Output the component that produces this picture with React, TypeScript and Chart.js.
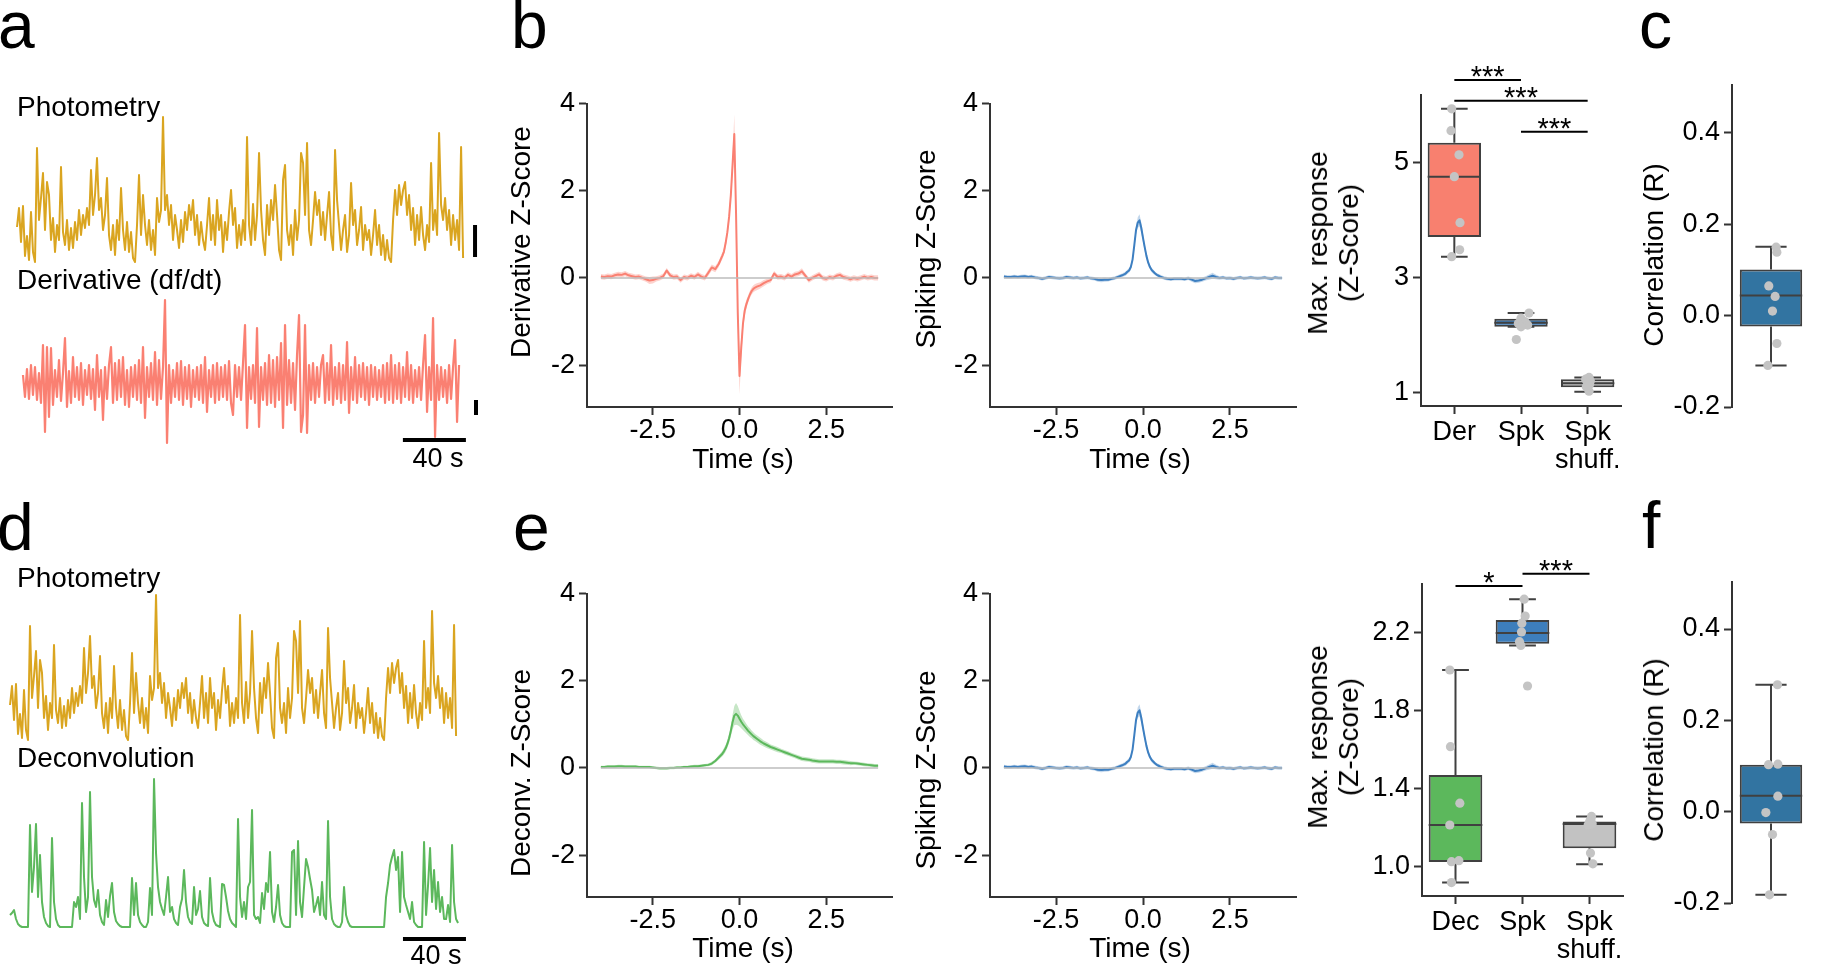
import React, { useEffect, useRef } from 'react';
import { Chart, registerables } from 'chart.js';

Chart.register(...registerables);

const FONT = '"Liberation Sans", Arial, Helvetica, sans-serif';
Chart.defaults.font.family = FONT;
Chart.defaults.font.size = 27;
Chart.defaults.color = '#000';

// ---------------- colours ----------------
const GOLD = '#DAA520';
const SALMON = '#FA8072';
const GREEN = '#5CB85C';
const BLUE_LINE = '#3D7FC1';
const ZERO = '#BDBDBD';
const AXIS = '#333333';
const BOX_EDGE = '#404040';
const DOT = '#C4C4C4';

// ---------------- example traces ----------------
const SAMPLE_DT = 1.27; // seconds per plotted sample
const DERIV_T0 = 3.8; // derivative trace starts slightly later
const photometry = [
  43, 62, 28, 64, 14, 34, 10, 58, 18, 8,
  122, 50, 72, 97, 40, 88, 75, 30, 52, 18,
  45, 30, 103, 38, 25, 50, 20, 42, 22, 48,
  30, 60, 35, 55, 42, 62, 45, 100, 55, 75,
  112, 60, 72, 40, 55, 92, 35, 20, 45, 15,
  50, 30, 82, 40, 20, 48, 18, 38, 12, 8,
  45, 95, 35, 75, 45, 25, 50, 20, 40, 15,
  72, 48, 60, 153, 60, 75, 45, 65, 30, 55,
  40, 22, 50, 28, 58, 40, 65, 50, 70, 35,
  55, 25, 48, 30, 20, 45, 72, 30, 55, 25,
  70, 40, 55, 18, 48, 30, 58, 80, 45, 62,
  22, 45, 25, 50, 30, 133, 45, 25, 66, 30,
  55, 117, 60, 30, 15, 65, 35, 70, 50, 85,
  55, 20, 10, 90, 105, 40, 25, 45, 15, 60,
  30, 50, 117, 107, 55, 127, 40, 25, 50, 78,
  55, 70, 35, 58, 30, 55, 78, 35, 20, 120,
  70, 45, 20, 40, 55, 18, 35, 87, 45, 60,
  25, 40, 63, 20, 45, 30, 40, 15, 35, 60,
  25, 45, 15, 35, 10, 30, 12, 8, 50, 80,
  55, 85, 65, 80, 88, 55, 75, 40, 62, 25,
  55, 30, 63, 35, 20, 45, 28, 107, 40, 60,
  35, 137, 65, 50, 72, 40, 60, 25, 55, 30,
  50, 20, 123, 12,
];
const derivative = [
  10, -12, 16, -14, 20, -10, 18, -15, 12, -18,
  40, -47, 38, -32, 37, -20, 15, -12, 25, -16,
  12, 47, -22, 14, -18, 28, -12, 18, -15, 22,
  -20, 15, -10, 20, -14, 16, -25, 30, -12, 15,
  -35, 18, -14, 20, 38, -18, 22, -15, 25, -12,
  28, -20, 15, -22, 18, -12, 20, -15, 25, -18,
  38, -33, 18, -12, 22, -15, 33, -20, 25, -14,
  18, 85, -58, 20, -18, 15, -12, 22, -15, 24,
  -20, 18, -14, 20, -22, 15, -12, 18, -15, 20,
  -18, 28, -27, 15, -12, 20, -18, 22, -15, 18,
  -12, 20, -15, 24, -18, -30, 20, -12, 18, -15,
  22, 60, -43, 18, -14, 20, -18, 57, -42, 18,
  -15, 22, -20, 30, -18, 25, -22, 28, -15, 42,
  -43, 60, -20, 25, -18, 22, -25, 30, 70, -47,
  -30, 60, -48, 20, -15, 22, -18, 18, -12, 20,
  30, -18, 22, -15, 40, -20, 18, -14, 22, -18,
  20, -15, 43, -28, 18, -15, 28, -18, 20, -12,
  22, -15, 18, -20, 20, -12, 18, -15, 15, -12,
  20, -18, 22, -15, 30, -18, 20, -14, 22, -18,
  18, -12, 33, -15, 20, -18, 15, -12, 18, -15,
  20, 50, -27, 18, -15, 67, -52, 20, -15, 18,
  -12, 15, -18, 20, -14, 18, 45, -37, 20,
];
const deconvolution = [
  12, 14, 17, 8, 3, 1, 0, 0, 0, 0,
  102, 35, 60, 103, 30, 72, 25, 10, 4, 1,
  0, 89, 25, 8, 2, 0, 0, 0, 0, 0,
  0, 0, 25, 20, 30, 8, 124, 50, 15, 30,
  135, 50, 27, 20, 37, 12, 5, 2, 27, 10,
  31, 44, 15, 6, 3, 1, 0, 0, 0, 0,
  0, 49, 12, 44, 12, 5, 2, 0, 0, 5,
  39, 12, 148, 74, 40, 25, 18, 12, 30, 50,
  15, 20, 8, 4, 2, 20, 28, 57, 25, 10,
  5, 3, 40, 12, 18, 36, 10, 4, 2, 1,
  49, 15, 6, 2, 1, 0, 43, 42, 30, 16,
  8, 4, 2, 0, 108, 30, 10, 25, 8, 40,
  45, 117, 12, 8, 10, 4, 34, 18, 44, 35,
  75, 15, 5, 20, 42, 12, 4, 1, 0, 0,
  0, 75, 77, 12, 86, 25, 10, 40, 68, 60,
  48, 37, 15, 22, 30, 12, 45, 12, 8, 106,
  30, 8, 3, 1, 0, 0, 5, 40, 12, 5,
  1, 0, 0, 0, 0, 0, 0, 0, 0, 0,
  0, 0, 0, 0, 0, 0, 0, 0, 30, 44,
  62, 70, 77, 57, 70, 15, 75, 30, 22, 15,
  8, 25, 5, 2, 0, 0, 0, 85, 12, 42,
  79, 25, 57, 18, 45, 15, 30, 8, 8, 22,
  5, 82, 25, 8, 4,
];
// scale bars (data units of the traces)
const photoBarA = { t: 290.8, y0: 13, y1: 45 };
const derivBarA = { t: 291.4, y0: -30, y1: -15 };
const timeBarA = { seconds: 40, tEnd: 285, y: -55 };
const timeBarD = { seconds: 40, tEnd: 289.5, y: -12 };

// ---------------- peri-event averages ----------------
const psthTimes = [
  -4, -3.9, -3.8, -3.7, -3.6, -3.5, -3.4, -3.3, -3.2, -3.1,
  -3, -2.9, -2.8, -2.7, -2.6, -2.5, -2.4, -2.3, -2.2, -2.1,
  -2, -1.9, -1.8, -1.7, -1.6, -1.5, -1.4, -1.3, -1.2, -1.1,
  -1, -0.9, -0.8, -0.7, -0.6,
  -0.5, -0.45, -0.4, -0.35, -0.3, -0.25, -0.2, -0.15, -0.1, -0.05, 0,
  0.05, 0.1, 0.15, 0.2, 0.25, 0.3, 0.35, 0.4, 0.45, 0.5,
  0.6, 0.7, 0.8, 0.9, 1, 1.1, 1.2, 1.3, 1.4, 1.5,
  1.6, 1.7, 1.8, 1.9, 2, 2.1, 2.2, 2.3, 2.4, 2.5,
  2.6, 2.7, 2.8, 2.9, 3, 3.1, 3.2, 3.3, 3.4, 3.5,
  3.6, 3.7, 3.8, 3.9, 4,
];
const derivZ = [
  0.03, 0.02, 0.04, 0.03, 0.06, 0.08, 0.07, 0.1, 0.06, 0.04,
  0.02, 0.03, 0.0, -0.03, -0.06, -0.05, -0.02, 0.0, 0.04, 0.17,
  0.06, 0.02, 0.03, -0.05, 0.02, 0.0, 0.05, 0.02, 0.08, 0.03,
  0.0, 0.12, 0.24, 0.2, 0.32,
  0.5, 0.6, 0.8, 1.05, 1.4, 1.9, 2.6, 3.3, 1.5, -0.8, -2.25,
  -1.6, -1.05, -0.75, -0.6, -0.48, -0.38, -0.3, -0.25, -0.22, -0.2,
  -0.17, -0.12, -0.08, -0.05, 0.1, 0.02, 0.03, 0.0, 0.07, 0.03,
  0.08, 0.1, 0.15, 0.05, -0.05, 0.0, 0.04, 0.08, 0.0, -0.02,
  0.02, 0.0, 0.05, 0.07, 0.02, 0.0, -0.03, 0.0, -0.02, 0.0,
  0.03, 0.0, 0.02, 0.0, 0.0,
];
const derivSem = [
  0.06, 0.06, 0.06, 0.06, 0.06, 0.06, 0.06, 0.06, 0.06, 0.06,
  0.06, 0.06, 0.06, 0.06, 0.08, 0.08, 0.06, 0.06, 0.06, 0.06,
  0.06, 0.06, 0.06, 0.06, 0.06, 0.06, 0.06, 0.06, 0.06, 0.06,
  0.06, 0.07, 0.07, 0.07, 0.07,
  0.08, 0.08, 0.1, 0.1, 0.12, 0.15, 0.25, 0.45, 0.3, 0.3, 0.42,
  0.25, 0.15, 0.12, 0.1, 0.08, 0.08, 0.08, 0.08, 0.08, 0.08,
  0.07, 0.07, 0.06, 0.06, 0.06, 0.06, 0.06, 0.06, 0.06, 0.06,
  0.06, 0.06, 0.07, 0.06, 0.06, 0.06, 0.06, 0.06, 0.06, 0.06,
  0.06, 0.06, 0.06, 0.06, 0.06, 0.06, 0.06, 0.06, 0.06, 0.06,
  0.06, 0.06, 0.06, 0.06, 0.06,
];
const spikeZ = [
  0.03, 0.02, 0.02, 0.03, 0.02, 0.03, 0.04, 0.02, 0.03, 0.01,
  0.0, -0.02, 0.0, 0.02, 0.01, 0.0, -0.01, 0.0, 0.02, 0.01,
  0.0, 0.01, -0.01, 0.0, 0.01, -0.01, -0.02, -0.04, -0.05, -0.04,
  -0.04, -0.02, 0.0, 0.03, 0.06,
  0.1, 0.14, 0.17, 0.25, 0.42, 0.75, 1.1, 1.27, 1.32, 1.15, 0.92,
  0.7, 0.5, 0.35, 0.25, 0.18, 0.14, 0.1, 0.07, 0.05, 0.03,
  0.0, -0.02, -0.03, -0.02, -0.02, -0.02, -0.03, -0.01, -0.04, -0.07,
  -0.06, -0.04, -0.01, 0.02, 0.05, 0.02, 0.0, 0.01, -0.01, 0.0,
  -0.02, 0.0, 0.01, -0.01, 0.0, 0.01, 0.0, -0.01, 0.0, 0.01,
  -0.01, -0.02, 0.01, 0.0, 0.0,
];
const spikeSem = [
  0.04, 0.04, 0.04, 0.04, 0.04, 0.04, 0.04, 0.04, 0.04, 0.04,
  0.04, 0.04, 0.04, 0.04, 0.04, 0.04, 0.04, 0.04, 0.04, 0.04,
  0.04, 0.04, 0.04, 0.04, 0.04, 0.04, 0.04, 0.05, 0.05, 0.05,
  0.04, 0.04, 0.04, 0.04, 0.04,
  0.05, 0.05, 0.05, 0.06, 0.07, 0.08, 0.1, 0.12, 0.14, 0.12, 0.1,
  0.08, 0.07, 0.06, 0.05, 0.05, 0.05, 0.04, 0.04, 0.04, 0.04,
  0.04, 0.04, 0.04, 0.04, 0.04, 0.04, 0.04, 0.04, 0.05, 0.05,
  0.05, 0.05, 0.05, 0.06, 0.07, 0.05, 0.04, 0.04, 0.04, 0.04,
  0.04, 0.04, 0.04, 0.04, 0.04, 0.04, 0.04, 0.04, 0.04, 0.04,
  0.04, 0.04, 0.04, 0.04, 0.04,
];
const deconvZ = [
  0.02, 0.02, 0.03, 0.03, 0.03, 0.04, 0.04, 0.03, 0.03, 0.03,
  0.03, 0.02, 0.02, 0.02, 0.02, 0.01, 0.0, -0.01, -0.01, -0.01,
  0.0, 0.0, 0.01, 0.01, 0.02, 0.02, 0.03, 0.04, 0.04, 0.05,
  0.06, 0.07, 0.1, 0.16, 0.24,
  0.32, 0.38, 0.45, 0.55, 0.68, 0.85, 1.05, 1.2, 1.24, 1.2, 1.13,
  1.06, 1.0, 0.95, 0.9, 0.85, 0.81, 0.77, 0.73, 0.7, 0.67,
  0.61, 0.56, 0.52, 0.48, 0.45, 0.42, 0.39, 0.36, 0.33, 0.3,
  0.27, 0.24, 0.21, 0.2, 0.19, 0.17, 0.16, 0.15, 0.15, 0.15,
  0.15, 0.15, 0.14, 0.14, 0.13, 0.12, 0.11, 0.11, 0.1, 0.09,
  0.08, 0.07, 0.06, 0.05, 0.05,
];
const deconvSem = [
  0.03, 0.03, 0.03, 0.03, 0.03, 0.03, 0.03, 0.03, 0.03, 0.03,
  0.03, 0.03, 0.03, 0.03, 0.03, 0.03, 0.03, 0.03, 0.03, 0.03,
  0.03, 0.03, 0.03, 0.03, 0.03, 0.03, 0.03, 0.03, 0.03, 0.03,
  0.03, 0.03, 0.04, 0.04, 0.05,
  0.06, 0.07, 0.08, 0.09, 0.1, 0.13, 0.17, 0.22, 0.25, 0.22, 0.18,
  0.15, 0.13, 0.12, 0.11, 0.1, 0.1, 0.09, 0.09, 0.08, 0.08,
  0.08, 0.07, 0.07, 0.06, 0.06, 0.06, 0.05, 0.05, 0.05, 0.05,
  0.05, 0.05, 0.05, 0.05, 0.05, 0.05, 0.05, 0.05, 0.05, 0.05,
  0.05, 0.05, 0.05, 0.05, 0.05, 0.05, 0.05, 0.04, 0.04, 0.04,
  0.04, 0.04, 0.04, 0.04, 0.04,
];
const psthXTicks = [-2.5, 0, 2.5];
const psthYTicks = [-2, 0, 2, 4];

// ---------------- max response boxes (b) ----------------
const respCatsB = ['Der', 'Spk', ['Spk', 'shuff.']];
const respColorsB = ['#F8806F', '#3D7EBC', '#C2C2C2'];
const respB_q1 = [3.71, 2.15, 1.1];
const respB_med = [4.76, 2.22, 1.17];
const respB_q3 = [5.35, 2.29, 1.24];
const respB_lo = [3.37, 2.15, 1.02];
const respB_hi = [5.94, 2.39, 1.27];
const respB_pts = [
  [5.94, 5.56, 5.14, 4.76, 3.96, 3.49, 3.37],
  [2.39, 2.3, 2.24, 2.21, 2.18, 2.15, 1.93],
  [1.27, 1.24, 1.21, 1.18, 1.15, 1.11, 1.03],
];
const respB_jit = [
  [-0.04, -0.05, 0.07, 0, 0.085, 0.08, -0.04],
  [0.12, 0.0, 0.06, -0.04, 0.1, 0.0, -0.07],
  [0.02, -0.03, 0.04, 0.0, 0.03, -0.02, 0.02],
];
const respB_ticks = [1, 3, 5];
const respB_sig: [number, number, number, string][] = [
  [0, 1, 6.44, '***'],
  [0, 2, 6.08, '***'],
  [1, 2, 5.54, '***'],
];

// ---------------- max response boxes (e) ----------------
const respCatsE = ['Dec', 'Spk', ['Spk', 'shuff.']];
const respColorsE = ['#5CB85C', '#3D7EBC', '#C2C2C2'];
const respE_q1 = [1.026, 2.144, 1.096];
const respE_med = [1.215, 2.2, 1.22];
const respE_q3 = [1.472, 2.267, 1.233];
const respE_lo = [0.92, 2.136, 1.014];
const respE_hi = [2.01, 2.373, 1.259];
const respE_pts = [
  [2.01, 1.617, 1.327, 1.215, 1.032, 1.027, 0.92],
  [2.373, 2.287, 2.25, 2.205, 2.155, 2.136, 1.928],
  [1.259, 1.245, 1.232, 1.222, 1.215, 1.071, 1.016],
];
const respE_jit = [
  [-0.085, -0.075, 0.065, -0.085, 0.05, -0.06, -0.06],
  [0.025, 0.04, -0.01, -0.015, -0.045, -0.025, 0.075],
  [0.03, 0.02, 0.0, 0.04, -0.02, 0.015, 0.05],
];
const respE_ticks = [1.0, 1.4, 1.8, 2.2];
const respE_sig: [number, number, number, string][] = [
  [0, 1, 2.441, '*'],
  [1, 2, 2.503, '***'],
];

// ---------------- correlation boxes (c, f) ----------------
const corrColor = '#3274A1';
const corrC_q1 = [-0.024];
const corrC_med = [0.044];
const corrC_q3 = [0.101];
const corrC_lo = [-0.109];
const corrC_hi = [0.151];
const corrC_pts = [[0.15, 0.139, 0.065, 0.042, 0.01, -0.061, -0.109]];
const corrC_jit = [[0.066, 0.075, -0.028, 0.053, 0.019, 0.075, -0.04]];
const corrF_q1 = [-0.026];
const corrF_med = [0.035];
const corrF_q3 = [0.103];
const corrF_lo = [-0.182];
const corrF_hi = [0.278];
const corrF_pts = [[0.278, 0.103, 0.104, 0.034, -0.002, -0.05, -0.182]];
const corrF_jit = [[0.083, -0.032, 0.088, 0.088, -0.066, 0.019, -0.019]];
const corrTicks = [-0.2, 0, 0.2, 0.4];

// ---------------- helpers ----------------
const baseOpts = () => ({
  responsive: false,
  animation: false,
  events: [],
  plugins: { legend: { display: false }, tooltip: { enabled: false } },
  elements: {
    point: { radius: 0 },
    line: { tension: 0, borderJoinStyle: 'round', borderCapStyle: 'butt' },
  },
});

const gridOpts = { display: true, drawOnChartArea: false, drawTicks: true, tickLength: 8, tickWidth: 2, tickColor: AXIS };
const borderOpts = { display: true, color: AXIS, width: 2 };

function fixedTicks(values: number[]) {
  return (s: any) => {
    s.ticks = values.map((v) => ({ value: v }));
  };
}

function traceChart(xmin: number, xmax: number, axes: Record<string, [number, number]>, datasets: any[]) {
  const scales: any = { x: { type: 'linear', display: false, min: xmin, max: xmax } };
  Object.keys(axes).forEach((k) => {
    scales[k] = { type: 'linear', display: false, position: 'left', min: axes[k][0], max: axes[k][1] };
  });
  return {
    type: 'line',
    data: { datasets },
    options: { ...baseOpts(), layout: { padding: 0 }, scales },
  };
}

const seg = (x0: number, y0: number, x1: number, y1: number, axis: string) => ({
  data: [{ x: x0, y: y0 }, { x: x1, y: y1 }],
  yAxisID: axis,
  borderColor: '#000',
  borderWidth: 4,
});

function psthChart(z: number[], sem: number[], line: string, band: string, yW: number, padRight: number) {
  const pts = (arr: number[]) => arr.map((v, i) => ({ x: psthTimes[i], y: v }));
  return {
    type: 'line',
    data: {
      datasets: [
        {
          data: [{ x: psthTimes[0], y: 0 }, { x: psthTimes[psthTimes.length - 1], y: 0 }],
          borderColor: ZERO, borderWidth: 1.6, order: 0,
        },
        { data: pts(z), borderColor: line, borderWidth: 2, order: 1 },
        { data: pts(z.map((v, i) => v + sem[i])), borderWidth: 0, borderColor: 'rgba(0,0,0,0)', backgroundColor: band, fill: '+1', order: 2 },
        { data: pts(z.map((v, i) => v - sem[i])), borderWidth: 0, borderColor: 'rgba(0,0,0,0)', fill: false, order: 3 },
      ],
    },
    options: {
      ...baseOpts(),
      layout: { padding: { top: 20.5, right: padRight, bottom: 0, left: 0 } },
      scales: {
        x: {
          type: 'linear', min: -4.4, max: 4.4,
          afterBuildTicks: fixedTicks(psthXTicks),
          afterFit: (s: any) => { s.height = 46; },
          ticks: { callback: (v: any) => Number(v).toFixed(1), font: { size: 27, lineHeight: 1.05 }, padding: 1, maxRotation: 0, color: '#000' },
          grid: gridOpts, border: borderOpts,
        },
        y: {
          type: 'linear', min: -2.96, max: 4,
          afterBuildTicks: fixedTicks(psthYTicks),
          afterFit: (s: any) => { s.width = yW; },
          ticks: { callback: (v: any) => String(v), font: { size: 27 }, padding: 4, color: '#000' },
          grid: gridOpts, border: borderOpts,
        },
      },
    },
  };
}

function boxChart(p: any) {
  const n = p.q1.length;
  const plugin = {
    id: 'boxExtras',
    afterDatasetDraw(chart: any, args: any) {
      if (args.index !== 0) return;
      const ctx = chart.ctx;
      const xs = chart.scales.x;
      const ys = chart.scales.y;
      ctx.save();
      ctx.strokeStyle = BOX_EDGE;
      ctx.lineWidth = 2;
      for (let c = 0; c < n; c++) {
        const cx = xs.getPixelForValue(c);
        const hw = xs.getPixelForValue(c + 0.4) - cx;
        const cw = hw / 2;
        const yMed = ys.getPixelForValue(p.med[c]);
        const yQ1 = ys.getPixelForValue(p.q1[c]);
        const yQ3 = ys.getPixelForValue(p.q3[c]);
        const yLo = ys.getPixelForValue(p.lo[c]);
        const yHi = ys.getPixelForValue(p.hi[c]);
        ctx.beginPath();
        ctx.moveTo(cx - hw, yMed); ctx.lineTo(cx + hw, yMed);
        ctx.moveTo(cx, yQ3); ctx.lineTo(cx, yHi);
        ctx.moveTo(cx, yQ1); ctx.lineTo(cx, yLo);
        ctx.moveTo(cx - cw, yHi); ctx.lineTo(cx + cw, yHi);
        ctx.moveTo(cx - cw, yLo); ctx.lineTo(cx + cw, yLo);
        ctx.stroke();
      }
      ctx.restore();
    },
    afterDraw(chart: any) {
      if (!p.sig) return;
      const ctx = chart.ctx;
      const xs = chart.scales.x;
      const ys = chart.scales.y;
      ctx.save();
      ctx.strokeStyle = '#000';
      ctx.fillStyle = '#000';
      ctx.lineWidth = 2;
      ctx.font = `29px ${FONT}`;
      ctx.textAlign = 'center';
      ctx.textBaseline = 'alphabetic';
      p.sig.forEach(([a, b, v, txt]: any) => {
        const x0 = xs.getPixelForValue(a);
        const x1 = xs.getPixelForValue(b);
        const y = ys.getPixelForValue(v);
        ctx.beginPath();
        ctx.moveTo(x0, y); ctx.lineTo(x1, y);
        ctx.stroke();
        ctx.fillText(txt, (x0 + x1) / 2, y + 6);
      });
      ctx.restore();
    },
  };
  const scatter = p.pts.flatMap((arr: number[], c: number) => arr.map((v, k) => ({ x: c + p.jit[c][k], y: v })));
  return {
    type: 'bar',
    data: {
      labels: p.labels,
      datasets: [
        {
          type: 'bar',
          data: p.q1.map((v: number, i: number) => [v, p.q3[i]]),
          backgroundColor: p.colors,
          borderColor: BOX_EDGE,
          borderWidth: 2,
          borderSkipped: false,
          grouped: false,
          barPercentage: 0.8,
          categoryPercentage: 1,
          order: 2,
          xAxisID: 'x',
          yAxisID: 'y',
        },
        {
          type: 'scatter',
          parsing: false,
          data: scatter,
          xAxisID: 'x',
          yAxisID: 'y',
          pointRadius: 4.6,
          pointBackgroundColor: DOT,
          pointBorderWidth: 0,
          order: 1,
        },
      ],
    },
    options: {
      ...baseOpts(),
      layout: { padding: p.pad },
      scales: {
        x: {
          type: 'category', offset: true, display: p.showX,
          afterFit: (s: any) => { s.height = p.xH; },
          ticks: { font: { size: 27, lineHeight: 1.05 }, padding: 4, maxRotation: 0, autoSkip: false, color: '#000' },
          grid: { ...gridOpts, offset: false },
          border: borderOpts,
        },
        y: {
          type: 'linear', min: p.yMin, max: p.yMax,
          afterBuildTicks: fixedTicks(p.yTicks),
          afterFit: (s: any) => { s.width = p.yW; },
          ticks: { callback: p.fmt, font: { size: 27 }, padding: 4, color: '#000' },
          grid: gridOpts, border: borderOpts,
        },
      },
    },
    plugins: [plugin],
  };
}

// ---------------- chart configs ----------------
const cfgA = () =>
  traceChart(-10.79, 300.3, { yP: [-210, 170], yD: [-95, 285] }, [
    { data: photometry.map((v, i) => ({ x: i * SAMPLE_DT, y: v })), yAxisID: 'yP', borderColor: GOLD, borderWidth: 2 },
    { data: derivative.map((v, i) => ({ x: DERIV_T0 + i * SAMPLE_DT, y: v })), yAxisID: 'yD', borderColor: SALMON, borderWidth: 2.2 },
    seg(photoBarA.t, photoBarA.y0, photoBarA.t, photoBarA.y1, 'yP'),
    seg(derivBarA.t, derivBarA.y0, derivBarA.t, derivBarA.y1, 'yD'),
    seg(timeBarA.tEnd - timeBarA.seconds, timeBarA.y, timeBarA.tEnd, timeBarA.y, 'yD'),
  ]);

const cfgD = () =>
  traceChart(-6.35, 304.76, { yP: [-220, 173], yC: [-41, 352] }, [
    { data: photometry.map((v, i) => ({ x: i * SAMPLE_DT, y: v })), yAxisID: 'yP', borderColor: GOLD, borderWidth: 2 },
    { data: deconvolution.map((v, i) => ({ x: i * SAMPLE_DT, y: v })), yAxisID: 'yC', borderColor: GREEN, borderWidth: 2 },
    seg(timeBarD.tEnd - timeBarD.seconds, timeBarD.y, timeBarD.tEnd, timeBarD.y, 'yC'),
  ]);

const cfgBL = () => psthChart(derivZ, derivSem, SALMON, 'rgba(250,128,114,0.35)', 62, 13);
const cfgBM = () => psthChart(spikeZ, spikeSem, BLUE_LINE, 'rgba(61,127,193,0.3)', 55, 9);
const cfgEL = () => psthChart(deconvZ, deconvSem, GREEN, 'rgba(92,184,92,0.35)', 62, 13);
const cfgEM = () => psthChart(spikeZ, spikeSem, BLUE_LINE, 'rgba(61,127,193,0.3)', 55, 9);

const cfgBR = () =>
  boxChart({
    labels: respCatsB, colors: respColorsB,
    q1: respB_q1, med: respB_med, q3: respB_q3, lo: respB_lo, hi: respB_hi,
    pts: respB_pts, jit: respB_jit, sig: respB_sig,
    yMin: 0.774, yMax: 6.18, yTicks: respB_ticks, fmt: (v: any) => String(v),
    yW: 51, xH: 74, showX: true, pad: { top: 45, right: 9, bottom: 0, left: 0 },
  });
const cfgER = () =>
  boxChart({
    labels: respCatsE, colors: respColorsE,
    q1: respE_q1, med: respE_med, q3: respE_q3, lo: respE_lo, hi: respE_hi,
    pts: respE_pts, jit: respE_jit, sig: respE_sig,
    yMin: 0.851, yMax: 2.451, yTicks: respE_ticks, fmt: (v: any) => Number(v).toFixed(1),
    yW: 52, xH: 72, showX: true, pad: { top: 44, right: 7, bottom: 0, left: 0 },
  });
const cfgC = () =>
  boxChart({
    labels: [''], colors: [corrColor],
    q1: corrC_q1, med: corrC_med, q3: corrC_q3, lo: corrC_lo, hi: corrC_hi,
    pts: corrC_pts, jit: corrC_jit,
    yMin: -0.2, yMax: 0.505, yTicks: corrTicks, fmt: (v: any) => Number(v).toFixed(1),
    yW: 67, xH: 0, showX: false, pad: { top: 25, right: 16, bottom: 25, left: 0 },
  });
const cfgF = () =>
  boxChart({
    labels: [''], colors: [corrColor],
    q1: corrF_q1, med: corrF_med, q3: corrF_q3, lo: corrF_lo, hi: corrF_hi,
    pts: corrF_pts, jit: corrF_jit,
    yMin: -0.2, yMax: 0.503, yTicks: corrTicks, fmt: (v: any) => Number(v).toFixed(1),
    yW: 67, xH: 0, showX: false, pad: { top: 27, right: 16, bottom: 25, left: 0 },
  });

// ---------------- components ----------------
function ChartBox({ rect, build }: { rect: number[]; build: () => any }) {
  const ref = useRef<HTMLCanvasElement | null>(null);
  useEffect(() => {
    const chart = new Chart(ref.current as HTMLCanvasElement, build());
    return () => chart.destroy();
  }, []);
  const [l, t, w, h] = rect;
  return (
    <canvas
      ref={ref}
      width={w}
      height={h}
      style={{ position: 'absolute', left: l, top: t, width: w, height: h }}
    />
  );
}

function Txt({ x, y, s, a, children }: { x: number; y: number; s: number; a?: string; children: any }) {
  const tx = a === 'c' ? '-50%' : a === 'r' ? '-100%' : '0';
  return (
    <div
      style={{
        position: 'absolute', left: x, top: y - 0.8465 * s, fontSize: s, lineHeight: `${s}px`,
        fontFamily: FONT, whiteSpace: 'nowrap', color: '#000', transform: `translateX(${tx})`,
      }}
    >
      {children}
    </div>
  );
}

function VTxt({ cx, cy, s, lines, lh }: { cx: number; cy: number; s: number; lines: string[]; lh?: number }) {
  return (
    <div
      style={{
        position: 'absolute', left: cx, top: cy, fontSize: s, lineHeight: `${lh ?? s}px`,
        fontFamily: FONT, whiteSpace: 'nowrap', color: '#000', textAlign: 'center',
        transform: 'translate(-50%, -50%) rotate(-90deg)',
      }}
    >
      {lines.map((l, i) => (
        <div key={i}>{l}</div>
      ))}
    </div>
  );
}

export default function App() {
  useEffect(() => {
    document.body.style.margin = '0';
    document.body.style.overflow = 'hidden';
  }, []);
  return (
    <div style={{ position: 'fixed', left: 0, top: 0, width: 1826, height: 968, background: '#fff', overflow: 'hidden' }}>
      <ChartBox rect={[0, 100, 490, 380]} build={cfgA} />
      <ChartBox rect={[0, 575, 490, 393]} build={cfgD} />
      <ChartBox rect={[525, 83, 380, 370]} build={cfgBL} />
      <ChartBox rect={[935, 83, 370, 370]} build={cfgBM} />
      <ChartBox rect={[525, 573, 380, 370]} build={cfgEL} />
      <ChartBox rect={[935, 573, 370, 370]} build={cfgEM} />
      <ChartBox rect={[1370, 50, 260, 430]} build={cfgBR} />
      <ChartBox rect={[1370, 540, 260, 428]} build={cfgER} />
      <ChartBox rect={[1665, 60, 161, 372]} build={cfgC} />
      <ChartBox rect={[1665, 555, 161, 373]} build={cfgF} />

      <Txt x={-2} y={48} s={66}>a</Txt>
      <Txt x={511} y={48} s={66}>b</Txt>
      <Txt x={1639} y={48} s={66}>c</Txt>
      <Txt x={-3} y={550} s={66}>d</Txt>
      <Txt x={513} y={550} s={66}>e</Txt>
      <Txt x={1642} y={548} s={66}>f</Txt>

      <Txt x={17} y={117} s={28}>Photometry</Txt>
      <Txt x={17} y={290} s={28}>Derivative (df/dt)</Txt>
      <Txt x={438} y={468} s={27} a="c">40 s</Txt>
      <Txt x={17} y={588} s={28}>Photometry</Txt>
      <Txt x={17} y={768} s={28}>Deconvolution</Txt>
      <Txt x={436} y={965} s={27} a="c">40 s</Txt>

      <Txt x={743} y={469} s={28} a="c">Time (s)</Txt>
      <Txt x={1140} y={469} s={28} a="c">Time (s)</Txt>
      <Txt x={743} y={958} s={28} a="c">Time (s)</Txt>
      <Txt x={1140} y={958} s={28} a="c">Time (s)</Txt>

      <VTxt cx={521} cy={242} s={28} lines={['Derivative Z-Score']} />
      <VTxt cx={926} cy={249} s={28} lines={['Spiking Z-Score']} />
      <VTxt cx={521} cy={773} s={28} lines={['Deconv. Z-Score']} />
      <VTxt cx={926} cy={770} s={28} lines={['Spiking Z-Score']} />
      <VTxt cx={1333} cy={243} s={28} lh={31} lines={['Max. response', '(Z-Score)']} />
      <VTxt cx={1333} cy={737} s={28} lh={31} lines={['Max. response', '(Z-Score)']} />
      <VTxt cx={1654} cy={255} s={28} lines={['Correlation (R)']} />
      <VTxt cx={1654} cy={750} s={28} lines={['Correlation (R)']} />
    </div>
  );
}
